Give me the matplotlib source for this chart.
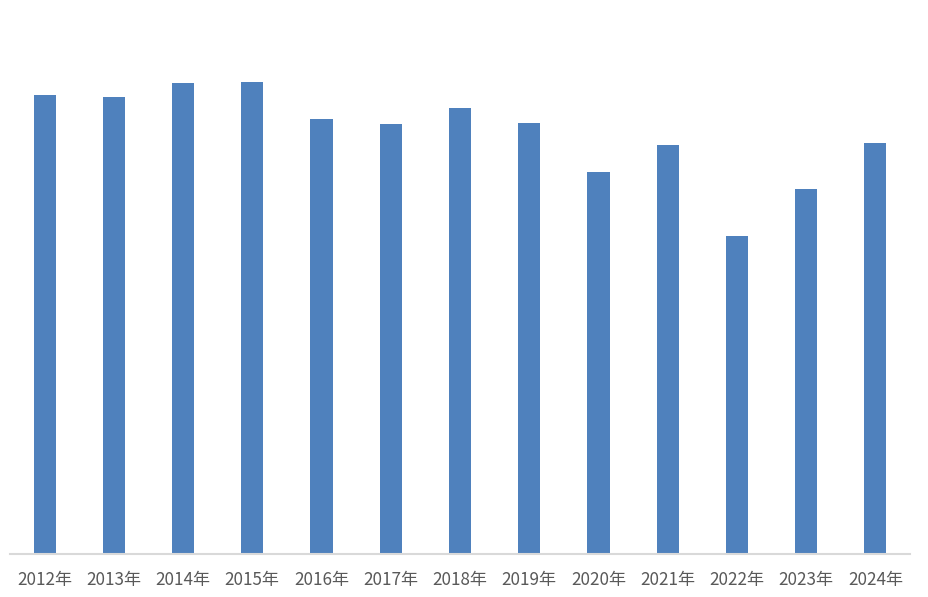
import matplotlib
matplotlib.use("Agg")
import matplotlib.pyplot as plt

plt.rcParams['font.family'] = ['Noto Sans CJK SC', 'DejaVu Sans']

# dados (alturas)
anos = ['2012年', '2013年', '2014年', '2015年', '2016年', '2017年', '2018年',
        '2019年', '2020年', '2021年', '2022年', '2023年', '2024年']
valores = [459, 457, 471, 472, 435, 430, 446, 431, 382, 409, 318, 365, 411]

fig = plt.figure(figsize=(9.29, 5.97), dpi=100)
ax = fig.add_axes([10/929, 43/597, 900/929, 534/597])

x = range(len(anos))
ax.bar(x, valores, width=0.32, color='#4f81bd')

ax.set_xlim(-0.5, len(anos) - 0.5)
ax.set_ylim(0, 534)
ax.set_xticks(list(x))
ax.set_xticklabels(anos, fontsize=12.3, color='#595959')
ax.tick_params(axis='x', length=0, pad=12)
ax.set_yticks([])
for s in ['top', 'right', 'left']:
    ax.spines[s].set_visible(False)
ax.spines['bottom'].set_color('#d9d9d9')
ax.spines['bottom'].set_linewidth(1.5)

fig.savefig('out.png', dpi=100)
